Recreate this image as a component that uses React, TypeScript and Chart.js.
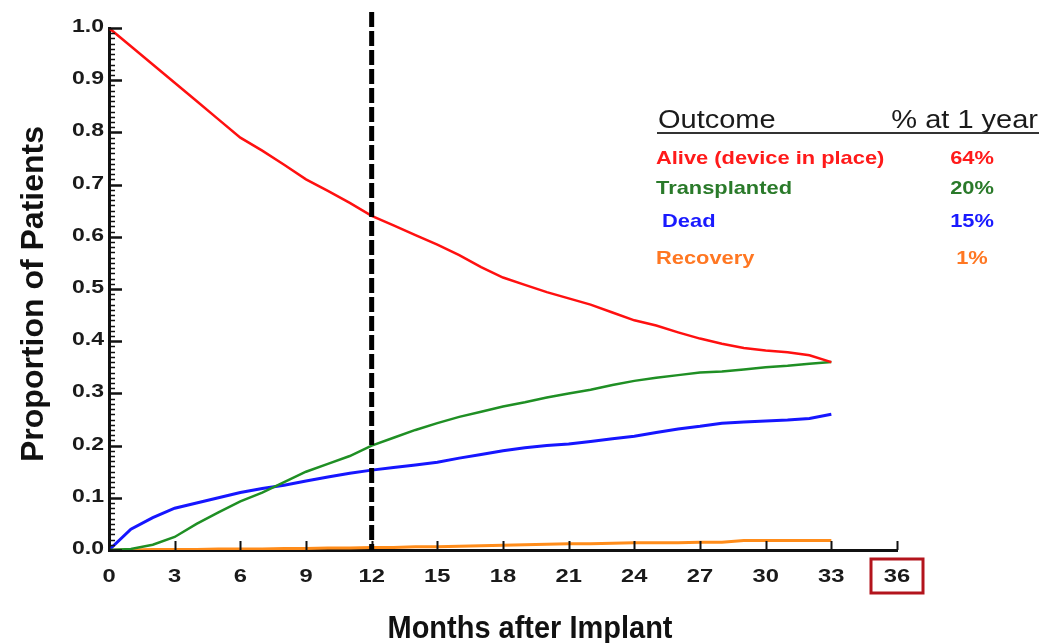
import { useEffect, useRef } from "react";
import { Chart, registerables } from "chart.js";

Chart.register(...registerables);

// Months after implant at which each curve is sampled
const months = [
  0, 1, 2, 3, 4, 5, 6, 7, 8, 9, 10, 11, 12, 13, 14, 15, 16,
  17, 18, 19, 20, 21, 22, 23, 24, 25, 26, 27, 28, 29, 30, 31, 32, 33,
];

// Proportion of patients in each outcome state
const aliveDevice = [
  1.0, 0.965, 0.93, 0.895, 0.86, 0.825, 0.79, 0.765, 0.738, 0.71, 0.688, 0.665,
  0.64, 0.622, 0.603, 0.585, 0.565, 0.542, 0.522, 0.508, 0.494, 0.482, 0.47,
  0.455, 0.44, 0.43, 0.417, 0.405, 0.395, 0.387, 0.382, 0.379, 0.373, 0.36,
];
const transplanted = [
  0, 0.002, 0.01, 0.025, 0.05, 0.072, 0.093, 0.11, 0.13, 0.15, 0.165, 0.18,
  0.2, 0.215, 0.23, 0.243, 0.255, 0.265, 0.275, 0.283, 0.292, 0.3, 0.307,
  0.316, 0.324, 0.33, 0.335, 0.34, 0.342, 0.346, 0.35, 0.353, 0.357, 0.36,
];
const dead = [
  0, 0.04, 0.062, 0.08, 0.09, 0.1, 0.11, 0.118, 0.124, 0.132, 0.14, 0.147,
  0.153, 0.158, 0.163, 0.168, 0.176, 0.183, 0.19, 0.196, 0.2, 0.203, 0.208,
  0.213, 0.218, 0.225, 0.232, 0.237, 0.243, 0.245, 0.247, 0.249, 0.252, 0.26,
];
const recovery = [
  0, 0, 0.001, 0.001, 0.001, 0.002, 0.002, 0.002, 0.003, 0.003, 0.004, 0.004,
  0.005, 0.005, 0.006, 0.006, 0.007, 0.008, 0.009, 0.01, 0.011, 0.012, 0.012,
  0.013, 0.014, 0.014, 0.014, 0.015, 0.015, 0.018, 0.018, 0.018, 0.018, 0.018,
];

const seriesValues = [aliveDevice, transplanted, dead, recovery];
const lineColors = ["#ff1010", "#1f8f24", "#1616ff", "#ff8c1a"];
const lineWidths = [2.5, 2.5, 3, 3];

// Outcome table
const outcomeNames = ["Alive (device in place)", "Transplanted", " Dead", "Recovery"];
const outcomeOneYear = ["64%", "20%", "15%", "1%"];
const outcomeColors = ["#ff1a1a", "#2a7a2a", "#1a1aff", "#ff7722"];

const monthTicks = [0, 3, 6, 9, 12, 15, 18, 21, 24, 27, 30, 33, 36];
const landmarkMonth = 12;
const highlightedMonth = 36;

const FONT = '"Liberation Sans", Arial, Helvetica, sans-serif';

function stretchedText(
  ctx: CanvasRenderingContext2D,
  text: string,
  x: number,
  y: number,
  font: string,
  color: string,
  align: "left" | "center" | "right",
  sx: number,
  baseline: CanvasTextBaseline = "alphabetic"
) {
  ctx.save();
  ctx.font = font;
  ctx.fillStyle = color;
  ctx.textBaseline = baseline;
  ctx.textAlign = "left";
  const w = ctx.measureText(text).width * sx;
  const left = align === "left" ? x : align === "right" ? x - w : x - w / 2;
  ctx.translate(left, y);
  ctx.scale(sx, 1);
  ctx.fillText(text, 0, 0);
  ctx.restore();
}

const decorations = {
  id: "decorations",
  afterDatasetsDraw(chart: any) {
    const { ctx } = chart;
    const xs = chart.scales.x;
    const ys = chart.scales.y;
    const x0 = xs.getPixelForValue(0);
    const y0 = ys.getPixelForValue(0);
    ctx.save();
    ctx.strokeStyle = "#111";
    // inward ticks on the proportion axis: minor every 0.01, major every 0.1
    for (let i = 0; i <= 100; i++) {
      const py = Math.round(ys.getPixelForValue(i / 100)) + 0.5;
      const major = i % 10 === 0;
      ctx.lineWidth = major ? 2.5 : 1.5;
      ctx.beginPath();
      ctx.moveTo(x0, py);
      ctx.lineTo(x0 + (major ? 13 : 6), py);
      ctx.stroke();
    }
    // inward ticks on the month axis
    ctx.lineWidth = 2;
    for (const m of monthTicks) {
      const px = Math.round(xs.getPixelForValue(m)) + 0.5;
      ctx.beginPath();
      ctx.moveTo(px, y0);
      ctx.lineTo(px, y0 - 9);
      ctx.stroke();
    }
    // dashed landmark at one year
    const lx = xs.getPixelForValue(landmarkMonth);
    ctx.strokeStyle = "#000";
    ctx.lineWidth = 5;
    ctx.setLineDash([15, 4]);
    ctx.beginPath();
    ctx.moveTo(lx, 12);
    ctx.lineTo(lx, y0);
    ctx.stroke();
    ctx.setLineDash([]);
    ctx.restore();
  },
  afterDraw(chart: any) {
    const { ctx } = chart;
    const xs = chart.scales.x;
    const ys = chart.scales.y;
    const x0 = xs.getPixelForValue(0);
    const y0 = ys.getPixelForValue(0);

    // tick labels
    for (const t of ys.ticks) {
      const py = ys.getPixelForValue(t.value);
      stretchedText(ctx, t.value.toFixed(1), x0 - 5, py - 1, `bold 18px ${FONT}`, "#1a1a1a", "right", 1.28, "middle");
    }
    for (const t of xs.ticks) {
      const px = xs.getPixelForValue(t.value);
      stretchedText(ctx, String(t.value), px, 577, `bold 19px ${FONT}`, "#1a1a1a", "center", 1.25, "middle");
    }

    // box around the 36-month label
    const hx = xs.getPixelForValue(highlightedMonth);
    ctx.save();
    ctx.strokeStyle = "#b3141c";
    ctx.lineWidth = 3;
    ctx.strokeRect(hx - 26, y0 + 9, 52, 34);
    ctx.restore();

    // axis titles
    stretchedText(ctx, "Months after Implant", 530, 638, `bold 31px ${FONT}`, "#111", "center", 0.935);
    ctx.save();
    ctx.translate(43, 294);
    ctx.rotate(-Math.PI / 2);
    ctx.font = `bold 32px ${FONT}`;
    ctx.fillStyle = "#111";
    ctx.textAlign = "center";
    ctx.textBaseline = "alphabetic";
    ctx.fillText("Proportion of Patients", 0, 0);
    ctx.restore();

    // outcome table
    stretchedText(ctx, "Outcome", 658, 128, `25px ${FONT}`, "#1a1a1a", "left", 1.16);
    stretchedText(ctx, "% at 1 year", 1038, 128, `25px ${FONT}`, "#1a1a1a", "right", 1.16);
    ctx.save();
    ctx.strokeStyle = "#333";
    ctx.lineWidth = 2;
    ctx.beginPath();
    ctx.moveTo(657, 133);
    ctx.lineTo(1039, 133);
    ctx.stroke();
    ctx.restore();
    const rowBaselines = [164, 194, 227, 264];
    outcomeNames.forEach((name, i) => {
      stretchedText(ctx, name, 656, rowBaselines[i], `bold 19px ${FONT}`, outcomeColors[i], "left", 1.15);
      stretchedText(ctx, outcomeOneYear[i], 972, rowBaselines[i], `bold 19px ${FONT}`, outcomeColors[i], "center", 1.15);
    });
  },
};

export default function App() {
  const canvasRef = useRef<HTMLCanvasElement | null>(null);

  useEffect(() => {
    document.body.style.margin = "0";
    const canvas = canvasRef.current;
    if (!canvas) return;
    const chart = new Chart(canvas, {
      type: "line",
      data: {
        datasets: seriesValues.map((vals, i) => ({
          label: outcomeNames[i].trim(),
          data: months.map((m, j) => ({ x: m, y: vals[j] })),
          borderColor: lineColors[i],
          borderWidth: lineWidths[i],
          pointRadius: 0,
          fill: false,
          tension: 0,
        })),
      },
      options: {
        animation: false,
        responsive: true,
        maintainAspectRatio: false,
        layout: { padding: { top: 28, right: 145, left: 0, bottom: 0 } },
        plugins: { legend: { display: false }, tooltip: { enabled: false } },
        scales: {
          x: {
            type: "linear",
            min: 0,
            max: 36,
            ticks: { stepSize: 3, display: false },
            grid: { display: false, drawTicks: false },
            border: { display: true, color: "#111", width: 3 },
            afterFit: (s: any) => {
              s.height = 93;
            },
          },
          y: {
            type: "linear",
            min: 0,
            max: 1,
            ticks: { stepSize: 0.1, display: false },
            grid: { display: false, drawTicks: false },
            border: { display: true, color: "#111", width: 3 },
            afterFit: (s: any) => {
              s.width = 109;
            },
          },
        },
      },
      plugins: [decorations],
    });
    return () => chart.destroy();
  }, []);

  return (
    <div style={{ position: "relative", width: 1042, height: 643, background: "#fff" }}>
      <canvas ref={canvasRef} />
    </div>
  );
}
